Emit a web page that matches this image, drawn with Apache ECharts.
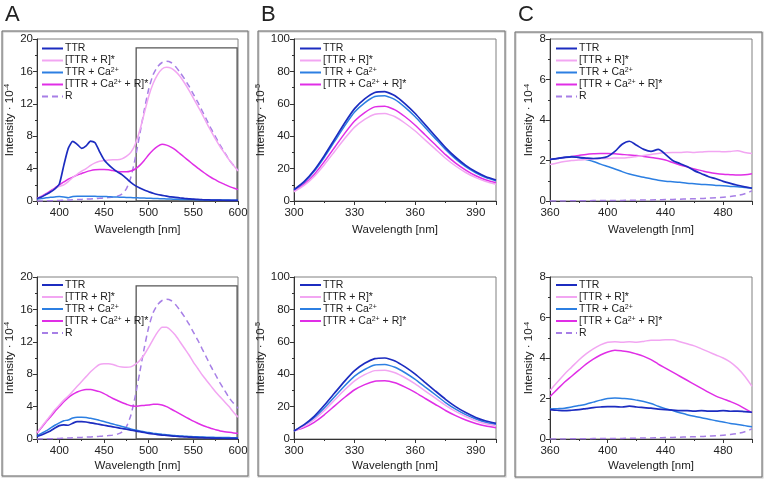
<!DOCTYPE html>
<html><head><meta charset="utf-8">
<script src="https://cdn.jsdelivr.net/npm/echarts@6/dist/echarts.min.js"></script>
<style>html,body{margin:0;padding:0;background:#fff}#c{width:764px;height:479px}</style>
</head><body><div id="c"></div>
<script>
// ---------- names / colours ----------
const names = ['TTR', '[TTR + R]*', 'TTR + Ca²⁺', '[TTR + Ca²⁺ + R]*', 'R'];
const colors = ['#1c2cc0', '#f2a6f2', '#2c7fe2', '#e02ee6', '#a77fe6'];
const panelLetters = ['A', 'B', 'C'];

// ---------- Panel A (x: 375..600 nm, step 5) ----------
const wlA = [375,380,385,390,395,400,405,410,415,420,425,430,435,440,445,450,455,460,465,470,475,480,485,490,495,500,505,510,515,520,525,530,535,540,545,550,555,560,565,570,575,580,585,590,595,600];
const aTop_TTR = [0.3,0.5,0.8,1.1,1.5,2.1,4.4,6.5,7.35,7.0,6.5,6.8,7.4,7.2,6.1,5.1,4.5,4.0,3.6,3.25,2.8,2.3,1.9,1.6,1.35,1.15,0.95,0.8,0.7,0.6,0.5,0.45,0.38,0.32,0.27,0.22,0.19,0.16,0.14,0.12,0.11,0.1,0.09,0.08,0.08,0.07];
const aTop_TTR_R = [0.3,0.5,0.8,1.1,1.5,1.8,2.0,2.4,2.9,3.3,3.7,4.0,4.4,4.7,4.9,5.0,5.05,5.1,5.1,5.2,5.5,6.0,7.0,8.7,10.8,12.9,14.5,15.6,16.3,16.5,16.4,16.0,15.4,14.6,13.7,12.7,11.7,10.7,9.6,8.6,7.6,6.7,5.9,5.1,4.4,3.7];
const aTop_TTR_Ca = [0.25,0.3,0.4,0.45,0.5,0.55,0.5,0.4,0.55,0.6,0.6,0.6,0.6,0.58,0.56,0.55,0.53,0.5,0.48,0.46,0.44,0.42,0.4,0.38,0.36,0.34,0.32,0.3,0.28,0.26,0.24,0.22,0.2,0.19,0.18,0.17,0.16,0.15,0.14,0.13,0.12,0.12,0.11,0.11,0.1,0.1];
const aTop_TTR_Ca_R = [0.3,0.6,0.9,1.25,1.6,2.0,2.35,2.7,2.95,3.2,3.4,3.6,3.75,3.85,3.9,3.9,3.85,3.75,3.65,3.6,3.6,3.7,3.95,4.4,5.0,5.7,6.3,6.75,7.0,6.9,6.65,6.3,5.85,5.4,4.95,4.5,4.05,3.65,3.25,2.9,2.6,2.3,2.05,1.8,1.6,1.4];
const a_R = [0,0,0.02,0.03,0.05,0.07,0.1,0.12,0.15,0.18,0.2,0.23,0.26,0.3,0.33,0.37,0.42,0.48,0.6,0.85,1.5,2.9,5.3,8.2,11.2,13.8,15.6,16.6,17.1,17.25,17.1,16.6,15.9,15.1,14.2,13.2,12.2,11.1,10.0,8.9,7.9,6.9,6.0,5.1,4.4,3.8];
const aBot_TTR = [0.3,0.5,0.75,1.0,1.35,1.65,1.75,1.7,1.95,2.15,2.15,2.1,2.0,1.9,1.8,1.7,1.6,1.5,1.4,1.3,1.2,1.1,1.0,0.9,0.8,0.7,0.62,0.55,0.49,0.44,0.39,0.34,0.3,0.27,0.24,0.21,0.18,0.16,0.14,0.12,0.11,0.1,0.09,0.08,0.08,0.07];
const aBot_TTR_R = [0.8,1.5,2.2,2.9,3.6,4.2,4.8,5.3,5.9,6.5,7.1,7.7,8.3,8.8,9.2,9.3,9.3,9.2,9.0,8.9,8.85,8.9,9.2,9.7,10.4,11.3,12.3,13.2,13.8,13.8,13.4,12.8,12.0,11.2,10.4,9.5,8.7,7.9,7.2,6.5,5.8,5.2,4.6,4.0,3.3,2.7];
const aBot_TTR_Ca = [0.4,0.7,1.0,1.35,1.7,2.0,2.25,2.35,2.6,2.7,2.7,2.65,2.55,2.45,2.3,2.15,2.0,1.85,1.7,1.55,1.4,1.25,1.12,1.0,0.9,0.8,0.72,0.65,0.58,0.52,0.47,0.42,0.38,0.35,0.32,0.29,0.27,0.25,0.23,0.21,0.2,0.19,0.18,0.17,0.16,0.15];
const aBot_TTR_Ca_R = [0.7,1.4,2.1,2.7,3.4,4.0,4.6,5.1,5.5,5.8,6.0,6.1,6.1,6.0,5.85,5.6,5.3,5.0,4.75,4.5,4.3,4.1,4.05,4.1,4.15,4.2,4.3,4.3,4.2,4.0,3.7,3.4,3.1,2.8,2.5,2.2,1.95,1.7,1.5,1.3,1.15,1.0,0.9,0.82,0.75,0.7];
const insetBoxA = {x0: 486, x1: 599, y0: 0, y1: 18.9};

// ---------- Panel B (x: 300..400 nm, step 5) ----------
const wlB = [300,305,310,315,320,325,330,335,340,345,350,355,360,365,370,375,380,385,390,395,400];
const bTop_TTR = [7,12,19,28,38,48,57,63,67,67.5,65,60,54,47,40,33,27,22,18,15,13];
const bTop_TTR_R = [5.6,9.6,15.2,22.4,30.4,38.4,45.6,50.4,53.6,54,52,48,43.2,37.6,32,26.4,21.6,17.6,14.4,12,10.4];
const bTop_TTR_Ca = [6.8,11.6,18.3,27,36.6,46.2,54.9,60.6,64.5,65,62.6,57.8,52,45.2,38.5,31.8,26,21.2,17.4,14.4,12.5];
const bTop_TTR_Ca_R = [6.1,10.4,16.4,24.3,32.9,41.6,49.4,54.6,58.1,58.5,56.3,52,46.8,40.7,34.7,28.6,23.4,19.1,15.6,13,11.3];
const bBot_TTR = [5,8.9,14,20.8,28.2,35.6,42.2,46.7,49.6,50,48.2,44.5,40,34.8,29.6,24.5,20,16.3,13.3,11.1,9.6];
const bBot_TTR_R = [5,7.8,12,17.6,23.9,30.2,35.9,39.7,42.2,42.5,40.9,37.8,34,29.6,25.2,20.8,17,13.9,11.3,9.4,8.2];
const bBot_TTR_Ca = [5,8.3,13,19.1,25.9,32.7,38.8,42.9,45.7,46,44.3,40.9,36.8,32,27.3,22.5,18.4,15,12.3,10.2,8.9];
const bBot_TTR_Ca_R = [5,7,10.3,14.9,20.3,25.6,30.4,33.6,35.7,36,34.7,32,28.8,25,21.3,17.6,14.4,11.7,9.6,8,7];

// ---------- Panel C (x: 360..500 nm, step 5) ----------
const wlC = [360,365,370,375,380,385,390,395,400,405,410,415,420,425,430,435,440,445,450,455,460,465,470,475,480,485,490,495,500];
const cTop_TTR = [2.05,2.1,2.15,2.18,2.15,2.12,2.1,2.12,2.2,2.45,2.8,2.95,2.75,2.55,2.45,2.55,2.3,2.0,1.85,1.7,1.5,1.35,1.2,1.1,0.97,0.87,0.78,0.7,0.63];
const cTop_TTR_R = [1.8,1.88,1.95,2.0,2.02,2.05,2.08,2.1,2.1,2.12,2.12,2.15,2.2,2.25,2.3,2.35,2.38,2.4,2.4,2.42,2.4,2.42,2.45,2.45,2.43,2.45,2.48,2.4,2.35];
const cTop_TTR_Ca = [2.05,2.1,2.15,2.2,2.15,2.05,1.95,1.82,1.7,1.58,1.45,1.33,1.25,1.17,1.1,1.03,0.98,0.95,0.92,0.88,0.85,0.82,0.8,0.77,0.75,0.72,0.7,0.67,0.64];
const cTop_TTR_Ca_R = [2.05,2.1,2.15,2.2,2.25,2.3,2.33,2.35,2.35,2.33,2.3,2.27,2.25,2.2,2.15,2.1,2.02,1.9,1.78,1.68,1.58,1.5,1.42,1.36,1.32,1.3,1.28,1.3,1.35];
const c_R = [0,0,0,0.01,0.01,0.01,0.02,0.02,0.02,0.03,0.03,0.04,0.04,0.05,0.05,0.06,0.07,0.08,0.09,0.1,0.11,0.12,0.14,0.16,0.19,0.22,0.27,0.36,0.5];
const cBot_TTR = [1.45,1.42,1.4,1.42,1.45,1.5,1.55,1.58,1.6,1.6,1.58,1.62,1.58,1.55,1.52,1.48,1.45,1.43,1.4,1.4,1.38,1.4,1.38,1.38,1.4,1.37,1.38,1.35,1.32];
const cBot_TTR_R = [2.4,2.8,3.2,3.55,3.9,4.2,4.45,4.65,4.78,4.8,4.78,4.8,4.78,4.82,4.88,4.88,4.9,4.9,4.8,4.7,4.6,4.45,4.3,4.15,4.0,3.8,3.5,3.1,2.6];
const cBot_TTR_Ca = [1.48,1.5,1.52,1.58,1.65,1.72,1.82,1.92,2.0,2.02,2.0,1.98,1.92,1.85,1.75,1.62,1.5,1.4,1.3,1.2,1.12,1.05,0.98,0.9,0.84,0.77,0.72,0.66,0.6];
const cBot_TTR_Ca_R = [2.1,2.45,2.8,3.1,3.4,3.7,3.95,4.15,4.3,4.38,4.35,4.3,4.2,4.08,3.92,3.7,3.5,3.3,3.1,2.9,2.7,2.5,2.3,2.12,1.98,1.85,1.7,1.5,1.3];

// ---------- axes ----------
const xAxesDef = [
  {min: 375, max: 600, splitNumber: 5},
  {min: 300, max: 400, interval: 30},
  {min: 360, max: 500, interval: 40}
];
const yAxesDef = [
  {min: 0, max: 20, interval: 4, name: 'Intensity · 10', exp: '-4', gap: 13},
  {min: 0, max: 100, interval: 20, name: 'Intensity · 10', exp: '-5', gap: 17},
  {min: 0, max: 8, interval: 2, name: 'Intensity · 10', exp: '-4', gap: 7}
];
const xName = 'Wavelength [nm]';

const FONT = '"Liberation Sans", Arial, "DejaVu Sans", sans-serif';
const gridPos = [
  {left: 37, top: 39, width: 201, height: 162},
  {left: 37, top: 277, width: 201, height: 162},
  {left: 294, top: 39, width: 202, height: 162},
  {left: 294, top: 277, width: 202, height: 162},
  {left: 550, top: 39, width: 202, height: 162},
  {left: 550, top: 277, width: 202, height: 162}
];

const panelData = [
  [wlA, [aTop_TTR, aTop_TTR_R, aTop_TTR_Ca, aTop_TTR_Ca_R, a_R]],
  [wlA, [aBot_TTR, aBot_TTR_R, aBot_TTR_Ca, aBot_TTR_Ca_R, a_R]],
  [wlB, [bTop_TTR, bTop_TTR_R, bTop_TTR_Ca, bTop_TTR_Ca_R]],
  [wlB, [bBot_TTR, bBot_TTR_R, bBot_TTR_Ca, bBot_TTR_Ca_R]],
  [wlC, [cTop_TTR, cTop_TTR_R, cTop_TTR_Ca, cTop_TTR_Ca_R, c_R]],
  [wlC, [cBot_TTR, cBot_TTR_R, cBot_TTR_Ca, cBot_TTR_Ca_R, c_R]]
];

const supRich = {
  t: {fontFamily: FONT, fontSize: 10.5, color: '#222', lineHeight: 11},
  s: {fontFamily: FONT, fontSize: 7, color: '#222', lineHeight: 11, verticalAlign: 'top', padding: [0, 0, 4, 0]}
};
const legendFormatter = (n) => {
  const parts = n.split('²⁺');
  if (parts.length === 1) return '{t|' + n + '}';
  return '{t|' + parts[0] + '}{s|2+}{t|' + parts[1] + '}';
};

const grid = [], xAxis = [], yAxis = [], series = [], legend = [];
gridPos.forEach((g, i) => {
  const p = Math.floor(i / 2);
  const top = i % 2 === 0;
  grid.push(Object.assign({show: true, borderColor: '#808080', borderWidth: 1, containLabel: false}, g));
  const xd = xAxesDef[p], yd = yAxesDef[p];
  xAxis.push({
    type: 'value', gridIndex: i, min: xd.min, max: xd.max, interval: xd.interval, splitNumber: xd.splitNumber,
    name: xName, nameLocation: 'middle', nameGap: top ? 23 : 21,
    nameTextStyle: {fontFamily: FONT, fontSize: 11.5, color: '#222'},
    axisLine: {lineStyle: {color: '#333', width: 1}},
    axisTick: {show: true, inside: false, length: 4, lineStyle: {color: '#333'}},
    minorTick: {show: true, splitNumber: 2, length: 2, lineStyle: {color: '#333'}},
    axisLabel: {fontFamily: FONT, fontSize: 11.5, color: '#222', margin: 6, showMinLabel: p !== 0, showMaxLabel: p === 0},
    splitLine: {show: false}
  });
  yAxis.push({
    type: 'value', gridIndex: i, min: yd.min, max: yd.max, interval: yd.interval,
    name: '{n|' + yd.name + '}{e|' + yd.exp + '}', nameLocation: 'middle', nameGap: yd.gap, nameRotate: 90,
    nameTextStyle: {fontFamily: FONT, fontSize: 11.5, color: '#222', rich: {
      n: {fontFamily: FONT, fontSize: 11.5, color: '#222', lineHeight: 13},
      e: {fontFamily: FONT, fontSize: 7.5, color: '#222', lineHeight: 13, verticalAlign: 'top', padding: [0, 0, 5, 0]}
    }},
    axisLine: {lineStyle: {color: '#333', width: 1}},
    axisTick: {show: true, inside: false, length: 4, lineStyle: {color: '#333'}},
    minorTick: {show: true, splitNumber: 2, length: 2, lineStyle: {color: '#333'}},
    axisLabel: {fontFamily: FONT, fontSize: 11.5, color: '#222', margin: 4},
    splitLine: {show: false}
  });
  const [wl, ys] = panelData[i];
  ys.forEach((vals, k) => {
    const s = {
      type: 'line', name: names[k], xAxisIndex: i, yAxisIndex: i,
      data: wl.map((w, j) => [w, vals[j]]),
      symbol: 'none', smooth: p === 2 ? 0.3 : (p === 0 ? 0.2 : 0.15),
      lineStyle: {color: colors[k], width: k === 0 ? 1.7 : 1.5, type: k === 4 ? [6, 4] : 'solid'},
      itemStyle: {color: colors[k]},
      z: k === 4 ? 1 : 2 + (4 - k),
      silent: true, animation: false
    };
    if (p === 0 && k === 0) {
      s.markArea = {
        silent: true,
        itemStyle: {color: 'rgba(0,0,0,0)', borderColor: '#555', borderWidth: 1.3},
        data: [[{coord: [insetBoxA.x0, insetBoxA.y0]}, {coord: [insetBoxA.x1, insetBoxA.y1]}]]
      };
    }
    series.push(s);
  });
  legend.push({
    data: names.slice(0, ys.length),
    orient: 'vertical', left: g.left + (p === 0 ? 4 : 5), top: g.top + (top ? 4 : 2.5),
    itemWidth: 21, itemHeight: 8, itemGap: 1, selectedMode: false, padding: 0,
    itemStyle: {opacity: 0},
    lineStyle: {width: 2},
    formatter: legendFormatter,
    textStyle: {fontFamily: FONT, fontSize: 10.5, color: '#222', padding: [0, 0, 0, -3], rich: supRich}
  });
});

const graphic = [];
const frames = [[2, 31, 246, 445], [258, 31, 247, 445], [515, 32, 247, 445]];
frames.forEach((f, i) => {
  graphic.push({type: 'rect', shape: {x: f[0] + 0.5, y: f[1] + 0.5, width: f[2], height: f[3]}, style: {fill: 'none', stroke: '#c8c8c8', lineWidth: 2}});
  graphic.push({type: 'rect', shape: {x: f[0], y: f[1], width: f[2], height: f[3]}, style: {fill: 'none', stroke: '#777', lineWidth: 1}});
  graphic.push({type: 'text', left: f[0] + 3, top: 4, style: {text: panelLetters[i], font: '22px ' + FONT, fill: '#222'}});
});

const chart = echarts.init(document.getElementById('c'), null, {renderer: 'canvas'});
chart.setOption({animation: false, backgroundColor: '#fff', grid, xAxis, yAxis, series, legend, graphic});
</script></body></html>
